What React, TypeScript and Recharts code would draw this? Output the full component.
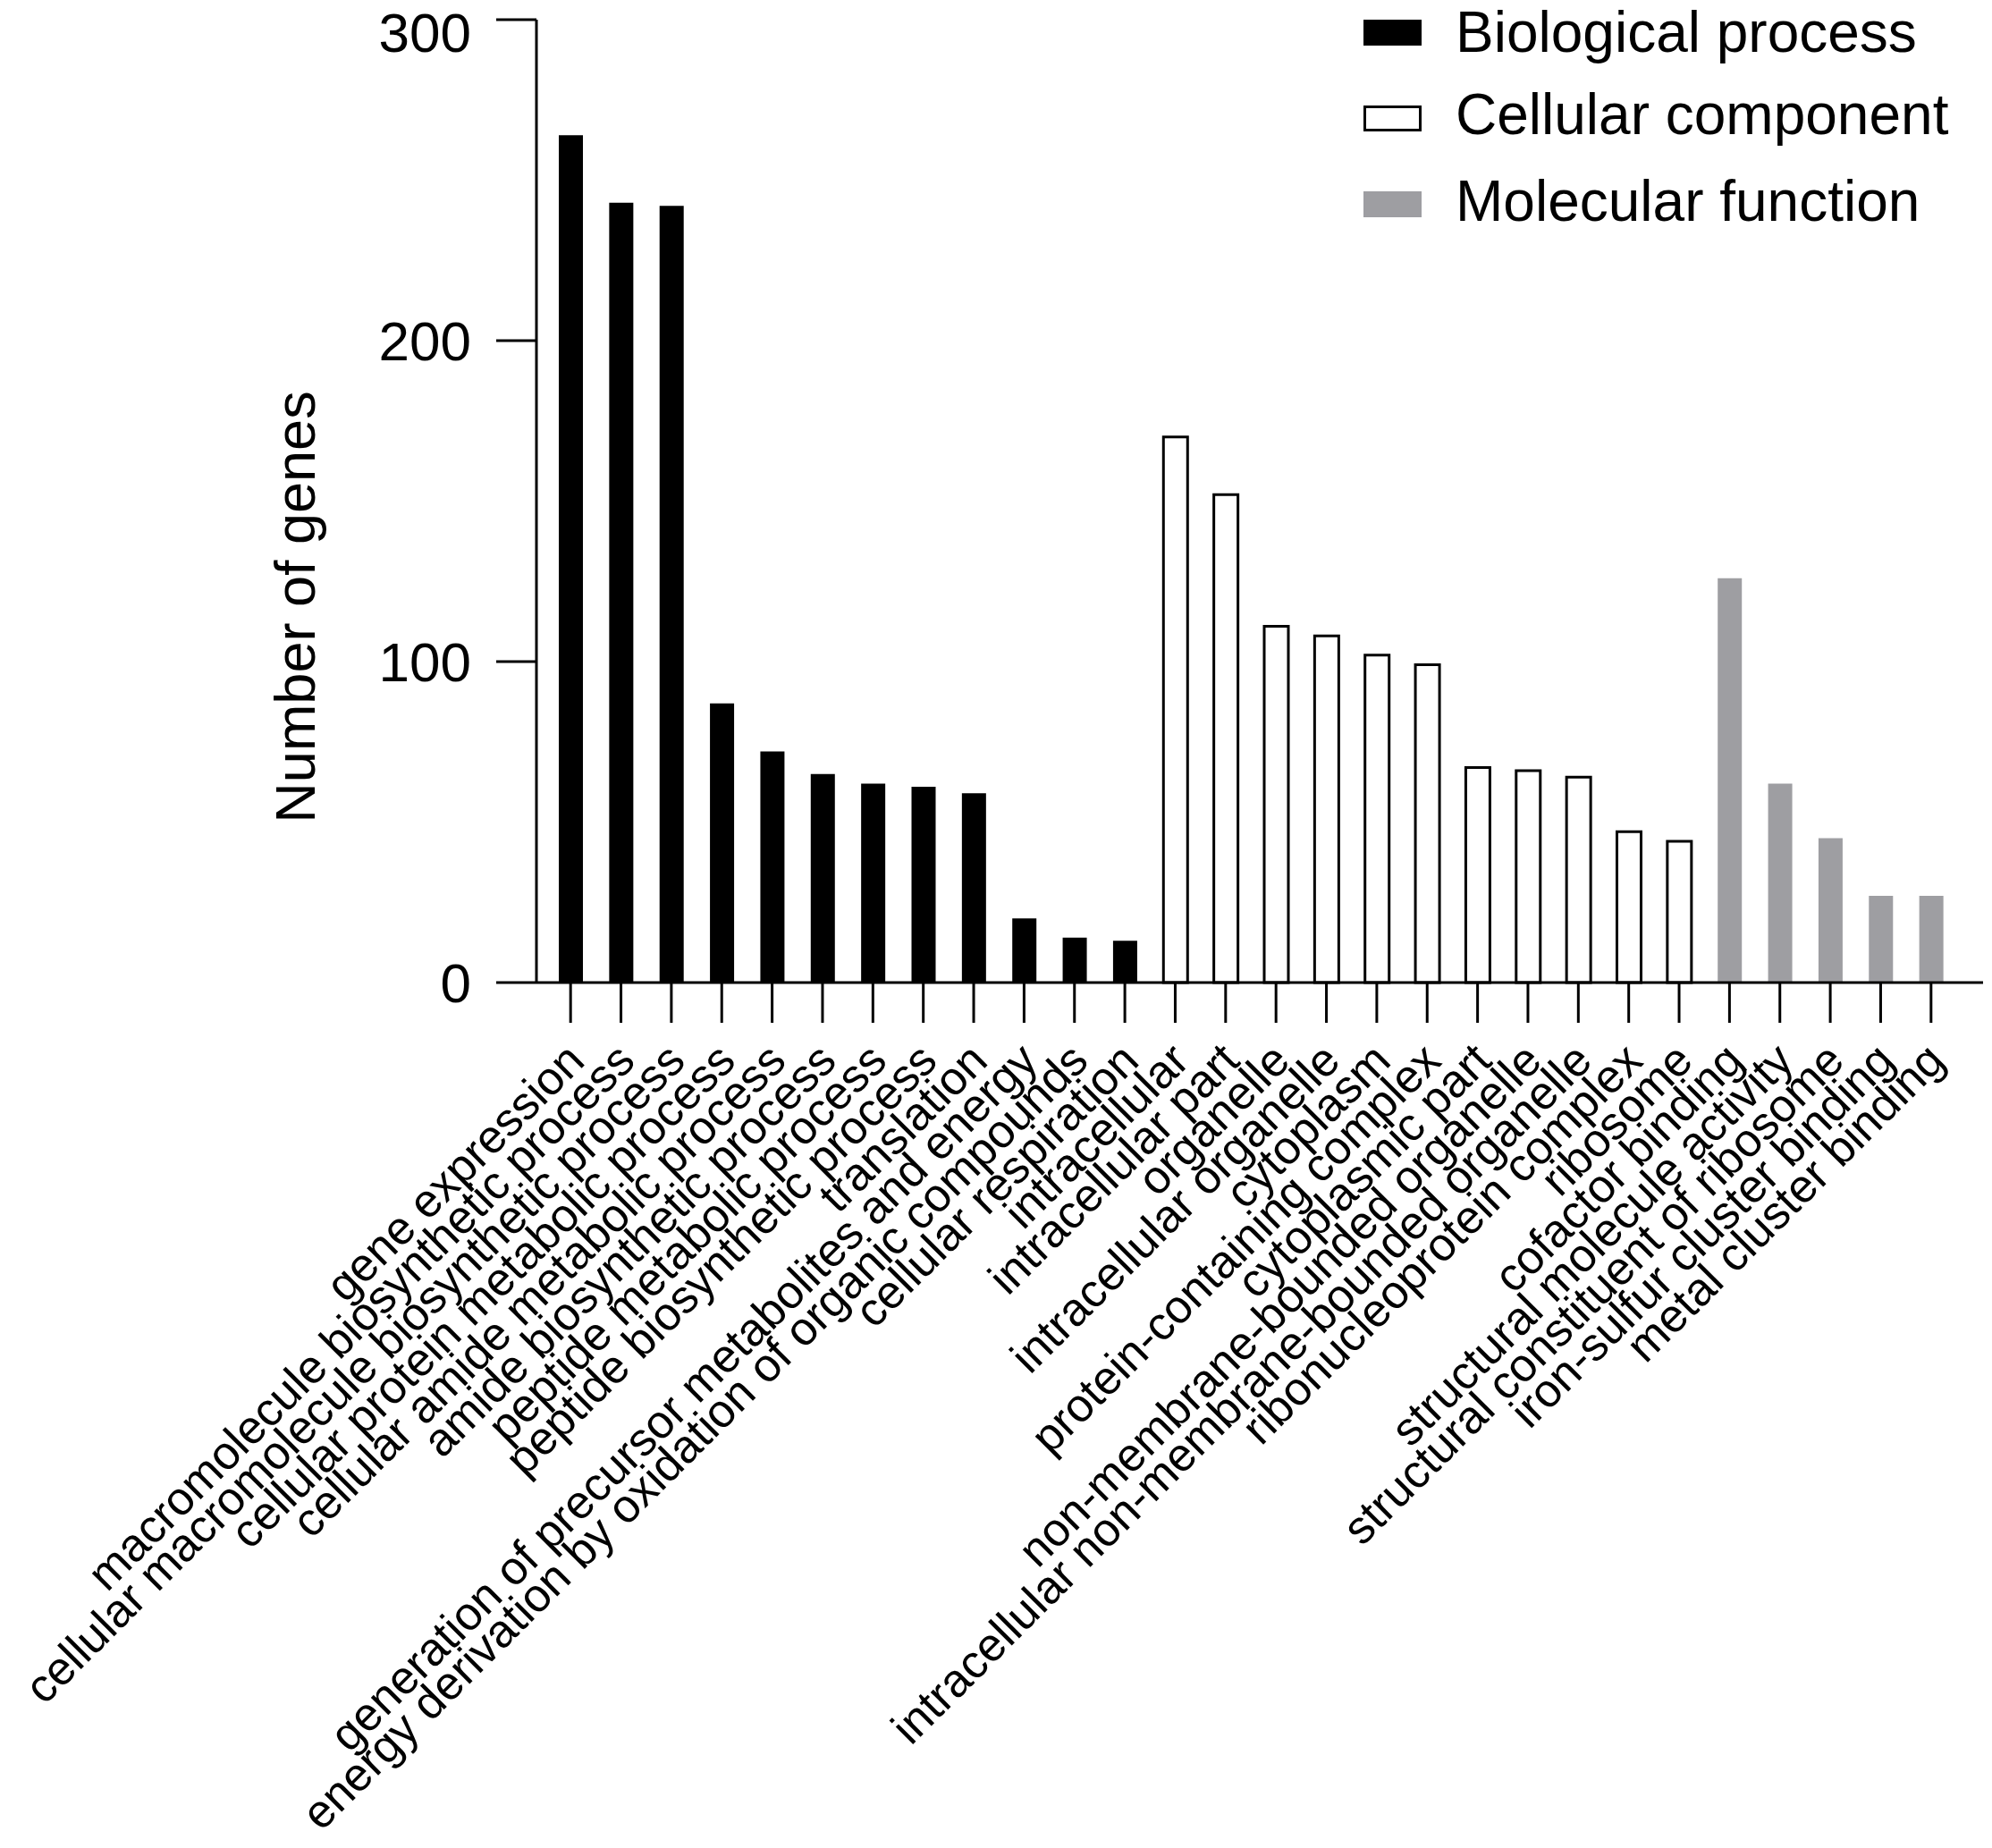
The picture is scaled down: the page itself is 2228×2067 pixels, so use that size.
import React from 'react';
import { BarChart, Bar, XAxis, YAxis, Legend } from 'recharts';

const bpTerms = [
  'gene expression',
  'macromolecule biosynthetic process',
  'cellular macromolecule biosynthetic process',
  'cellular protein metabolic process',
  'cellular amide metabolic process',
  'amide biosynthetic process',
  'peptide metabolic process',
  'peptide biosynthetic process',
  'translation',
  'generation of precursor metabolites and energy',
  'energy derivation by oxidation of organic compounds',
  'cellular respiration',
];
const bpCounts = [264, 243, 242, 87, 72, 65, 62, 61, 59, 20, 14, 13];

const ccTerms = [
  'intracellular',
  'intracellular part',
  'organelle',
  'intracellular organelle',
  'cytoplasm',
  'protein-containing complex',
  'cytoplasmic part',
  'non-membrane-bounded organelle',
  'intracellular non-membrane-bounded organelle',
  'ribonucleoprotein complex',
  'ribosome',
];
const ccCounts = [170, 152, 111, 108, 102, 99, 67, 66, 64, 47, 44];

const mfTerms = [
  'cofactor binding',
  'structural molecule activity',
  'structural constituent of ribosome',
  'iron-sulfur cluster binding',
  'metal cluster binding',
];
const mfCounts = [126, 62, 45, 27, 27];

const yTicks = [0, 100, 200, 300];
const seriesNames = ['Biological process', 'Cellular component', 'Molecular function'];

const data = [
  ...bpTerms.map((term, i) => ({ term, bp: bpCounts[i] })),
  ...ccTerms.map((term, i) => ({ term, cc: ccCounts[i] })),
  ...mfTerms.map((term, i) => ({ term, mf: mfCounts[i] })),
];

const FONT = '"Liberation Sans", Arial, Helvetica, sans-serif';
const GRAY = '#9e9ea2';

const swatches = [
  { fill: '#000', stroke: '#000' },
  { fill: '#fff', stroke: '#000' },
  { fill: GRAY, stroke: GRAY },
];
const legendBaselines = [78, 170, 267];

const TermTick = (props: any) => {
  const { x, y, payload } = props;
  return (
    <g transform={`translate(${x + 18},${y + 45})`}>
      <text
        textAnchor="end"
        transform="rotate(-45)"
        fontSize={52}
        fontFamily={FONT}
        fill="#000"
      >
        {payload.value}
      </text>
    </g>
  );
};

// legend box starts 20px above the chart top, so everything inside is shifted down by 20
const LegendBox = () => (
  <svg width={711} height={282} style={{ display: 'block', overflow: 'visible' }}>
    {seriesNames.map((name, i) => (
      <g key={name}>
        <rect
          x={9.5}
          y={43.5 + i * 96}
          width={62}
          height={26}
          fill={swatches[i].fill}
          stroke={swatches[i].stroke}
          strokeWidth={3}
        />
        <text x={111} y={legendBaselines[i]} fontSize={64} fontFamily={FONT} fill="#000">
          {name}
        </text>
      </g>
    ))}
  </svg>
);

const YTitle = () => (
  <text
    x={352}
    y={679}
    transform="rotate(-90, 352, 679)"
    textAnchor="middle"
    fontSize={63}
    fontFamily={FONT}
    fill="#000"
  >
    Number of genes
  </text>
);

export default function App() {
  return (
    <div style={{ position: 'absolute', left: 0, top: 0, background: '#fff' }}>
      <BarChart
        width={2228}
        height={2067}
        data={data}
        margin={{ top: 22, right: 10 - 711, bottom: 0, left: 0 }}
      >
        <XAxis
          dataKey="term"
          interval={0}
          height={968}
          padding={{ left: 10, right: 30 }}
          tick={<TermTick />}
          tickSize={45}
          tickMargin={0}
          axisLine={{ stroke: '#000', strokeWidth: 3 }}
          tickLine={{ stroke: '#000', strokeWidth: 3 }}
        />
        <YAxis
          width={600}
          domain={[0, 300]}
          ticks={yTicks}
          tickSize={45}
          tickMargin={28}
          axisLine={{ stroke: '#000', strokeWidth: 3 }}
          tickLine={{ stroke: '#000', strokeWidth: 3 }}
          tick={{ fontSize: 62, fontFamily: FONT, fill: '#000' }}
          label={() => <YTitle />}
        />
        <Legend
          layout="vertical"
          align="right"
          verticalAlign="top"
          width={711}
          content={() => <LegendBox />}
          wrapperStyle={{ left: 1517, top: -20, right: 'auto', bottom: 'auto' }}
        />
        <Bar dataKey="bp" name={seriesNames[0]} stackId="go" barSize={27} fill="#000" isAnimationActive={false} />
        <Bar
          dataKey="cc"
          name={seriesNames[1]}
          stackId="go"
          barSize={27}
          fill="#fff"
          stroke="#000"
          strokeWidth={3}
          isAnimationActive={false}
        />
        <Bar dataKey="mf" name={seriesNames[2]} stackId="go" barSize={27} fill={GRAY} isAnimationActive={false} />
      </BarChart>
    </div>
  );
}
